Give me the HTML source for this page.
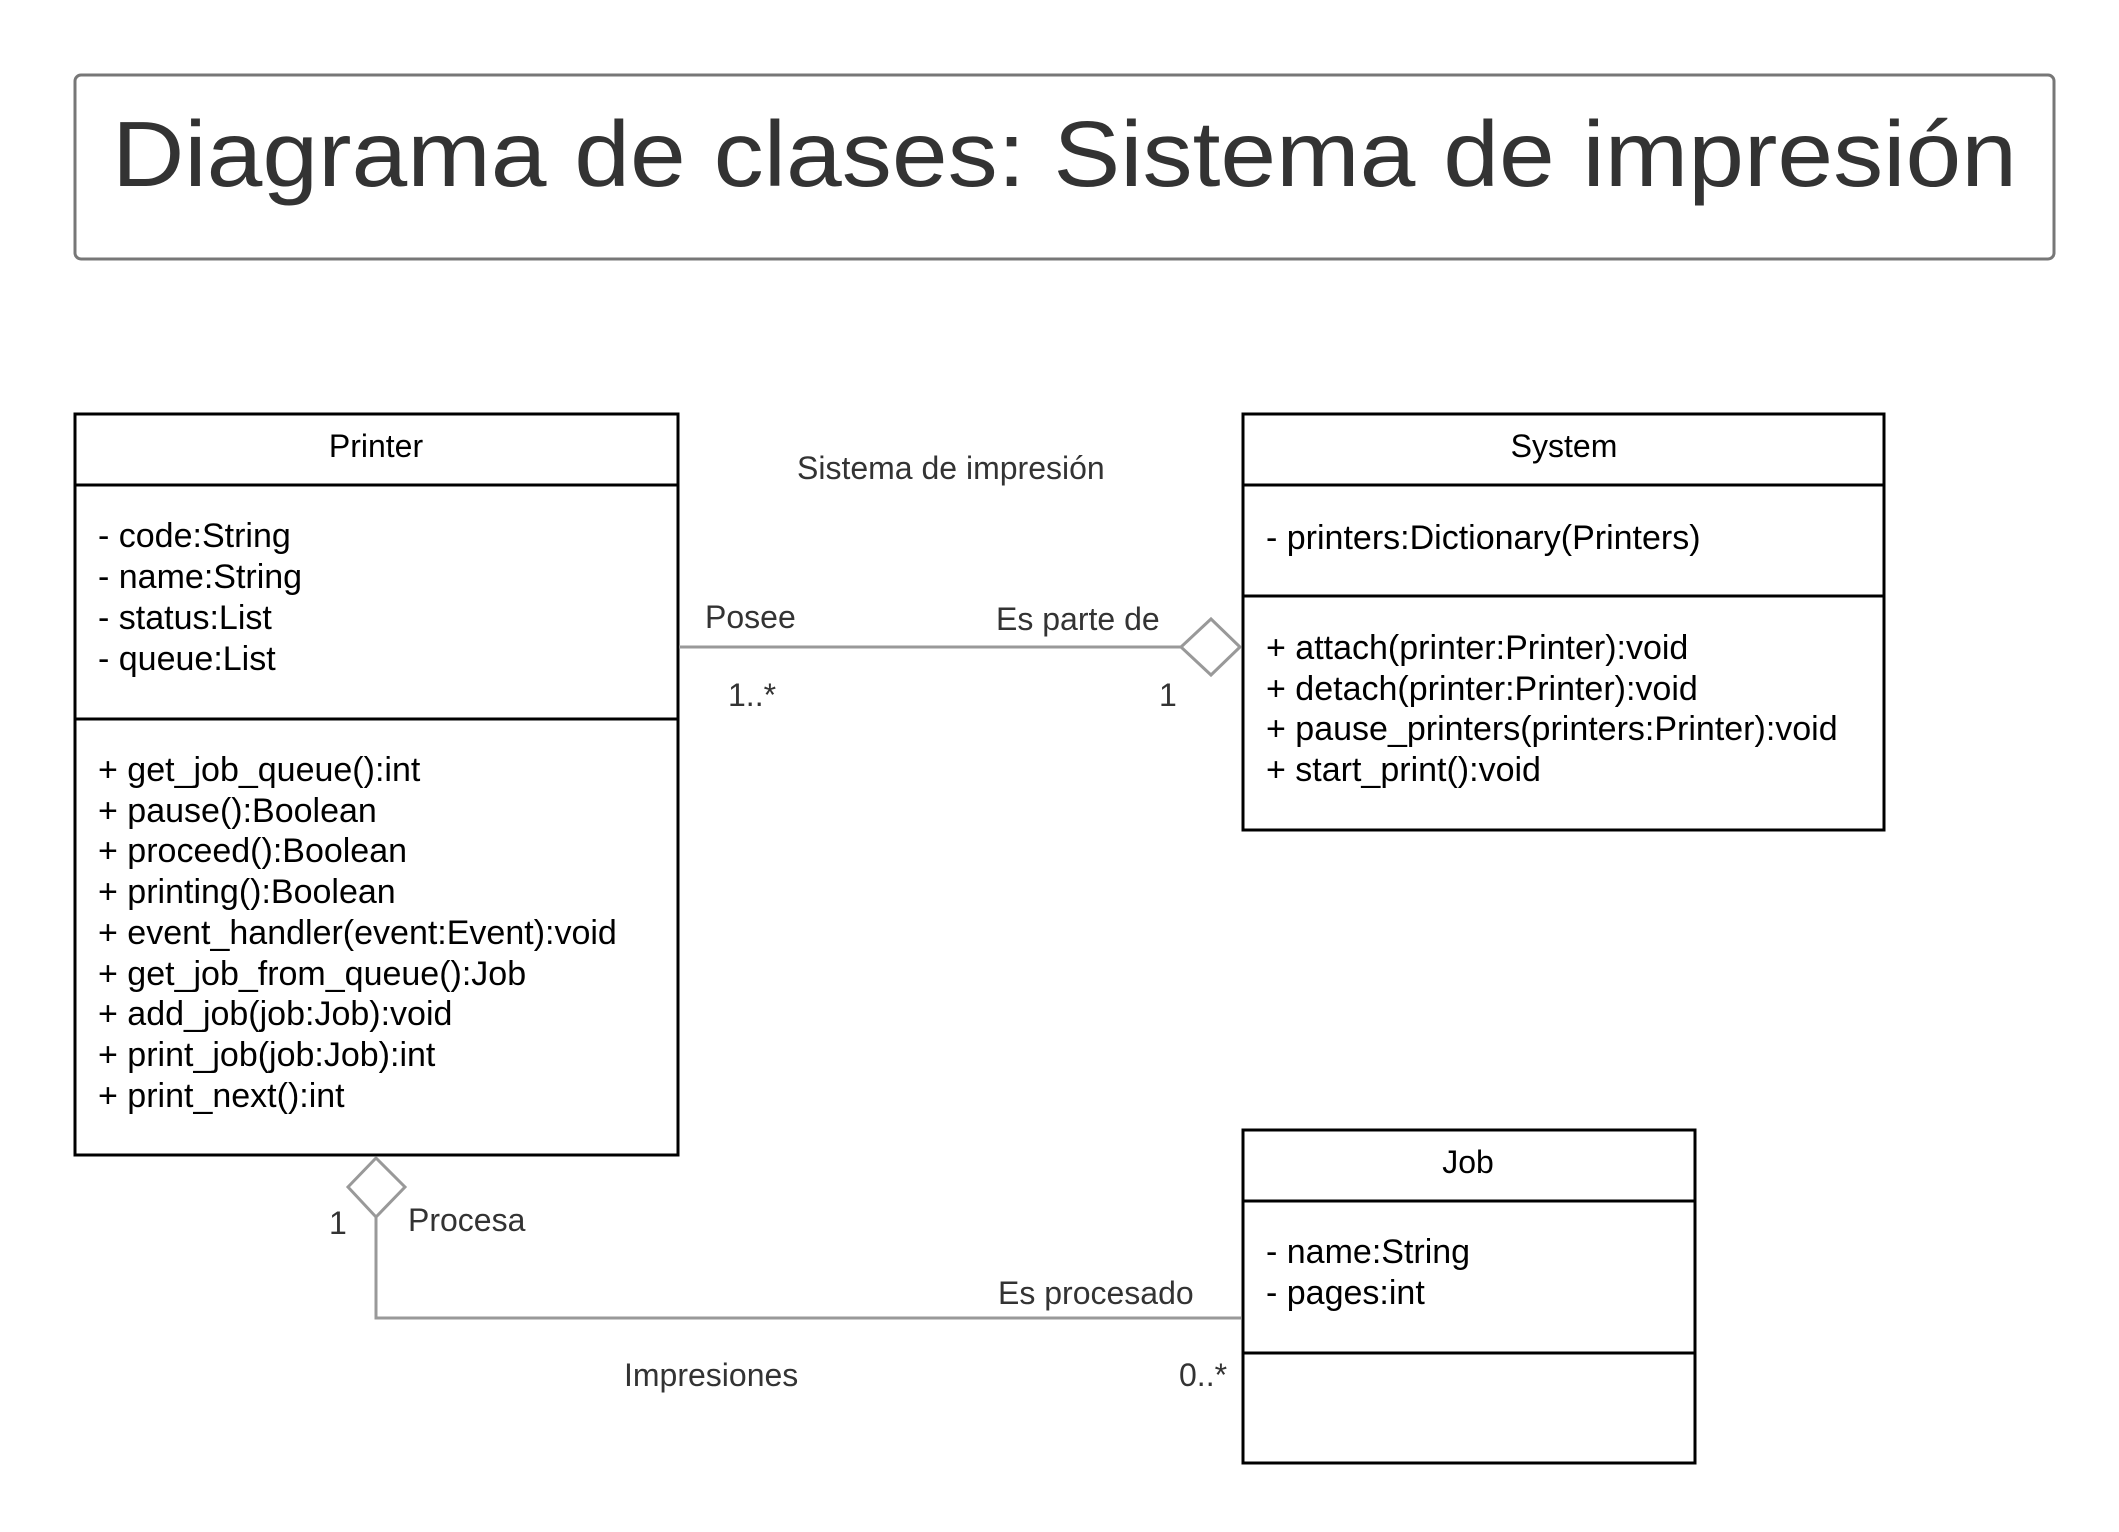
<!DOCTYPE html>
<html><head><meta charset="utf-8"><style>
html,body{margin:0;padding:0;background:#fff;}
svg{display:block;}
text{font-family:"Liberation Sans",sans-serif;}
</style></head><body>
<svg width="2119" height="1532" viewBox="0 0 2119 1532" xmlns="http://www.w3.org/2000/svg">
<rect x="75" y="75" width="1979" height="184" rx="6" fill="#fff" stroke="#777" stroke-width="3"/>
<text x="112" y="186" font-size="93" fill="#333" textLength="1905" lengthAdjust="spacingAndGlyphs">Diagrama de clases: Sistema de impresión</text>

<!-- Printer -->
<rect x="75" y="414" width="603" height="741" fill="#fff" stroke="#000" stroke-width="3"/>
<line x1="75" y1="485" x2="678" y2="485" stroke="#000" stroke-width="3"/>
<line x1="75" y1="719" x2="678" y2="719" stroke="#000" stroke-width="3"/>
<g font-size="34" fill="#000">
<text x="376" y="457" text-anchor="middle" font-size="32">Printer</text>
<text x="98" y="547">- code:String</text>
<text x="98" y="588">- name:String</text>
<text x="98" y="629">- status:List</text>
<text x="98" y="670">- queue:List</text>
<text x="98" y="781">+ get_job_queue():int</text>
<text x="98" y="822">+ pause():Boolean</text>
<text x="98" y="862">+ proceed():Boolean</text>
<text x="98" y="903">+ printing():Boolean</text>
<text x="98" y="944">+ event_handler(event:Event):void</text>
<text x="98" y="985">+ get_job_from_queue():Job</text>
<text x="98" y="1025">+ add_job(job:Job):void</text>
<text x="98" y="1066">+ print_job(job:Job):int</text>
<text x="98" y="1107">+ print_next():int</text>
</g>

<!-- System -->
<rect x="1243" y="414" width="641" height="416" fill="#fff" stroke="#000" stroke-width="3"/>
<line x1="1243" y1="485" x2="1884" y2="485" stroke="#000" stroke-width="3"/>
<line x1="1243" y1="596" x2="1884" y2="596" stroke="#000" stroke-width="3"/>
<g font-size="34" fill="#000">
<text x="1564" y="457" text-anchor="middle" font-size="32">System</text>
<text x="1266" y="549">- printers:Dictionary(Printers)</text>
<text x="1266" y="659">+ attach(printer:Printer):void</text>
<text x="1266" y="700">+ detach(printer:Printer):void</text>
<text x="1266" y="740">+ pause_printers(printers:Printer):void</text>
<text x="1266" y="781">+ start_print():void</text>
</g>

<!-- Job -->
<rect x="1243" y="1130" width="452" height="333" fill="#fff" stroke="#000" stroke-width="3"/>
<line x1="1243" y1="1201" x2="1695" y2="1201" stroke="#000" stroke-width="3"/>
<line x1="1243" y1="1353" x2="1695" y2="1353" stroke="#000" stroke-width="3"/>
<g font-size="34" fill="#000">
<text x="1468" y="1173" text-anchor="middle" font-size="32">Job</text>
<text x="1266" y="1263">- name:String</text>
<text x="1266" y="1304">- pages:int</text>
</g>

<!-- Connector 1 -->
<line x1="679" y1="647" x2="1181" y2="647" stroke="#999" stroke-width="3"/>
<polygon points="1181,647 1211,619 1240,647 1211,675" fill="#fff" stroke="#999" stroke-width="3"/>
<!-- Connector 2 -->
<polyline points="376,1217 376,1318 1241,1318" fill="none" stroke="#999" stroke-width="3"/>
<polygon points="376,1158 405,1187 376,1217 348,1187" fill="#fff" stroke="#999" stroke-width="3"/>

<g font-size="32" fill="#333">
<text x="797" y="479">Sistema de impresión</text>
<text x="705" y="628">Posee</text>
<text x="996" y="630">Es parte de</text>
<text x="728" y="706">1..*</text>
<text x="1159" y="706">1</text>
<text x="329" y="1234">1</text>
<text x="408" y="1231">Procesa</text>
<text x="998" y="1304">Es procesado</text>
<text x="624" y="1386">Impresiones</text>
<text x="1179" y="1386">0..*</text>
</g>
</svg>
</body></html>
